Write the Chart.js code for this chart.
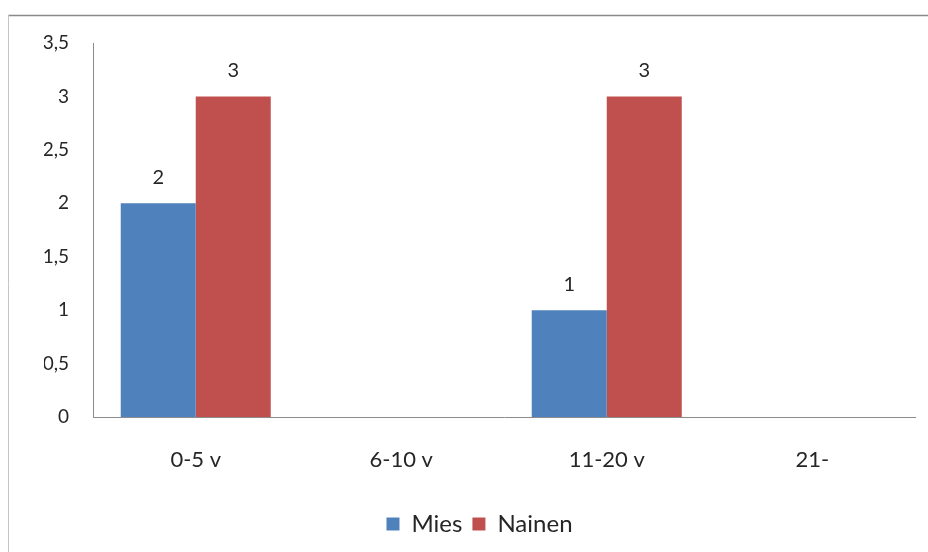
<!DOCTYPE html>
<html>
<head>
<meta charset="utf-8">
<script src="https://cdn.jsdelivr.net/npm/chart.js@4/dist/chart.umd.min.js"></script>
<style>
  html, body { margin: 0; padding: 0; background: #ffffff; }
  #wrap { position: relative; width: 928px; height: 552px; }
</style>
</head>
<body>
<div id="wrap"><canvas id="chart" width="928" height="552"></canvas></div>
<script>
const categories = ['0-5 v', '6-10 v', '11-20 v', '21-'];
const miesValues = [2, null, 1, null];
const nainenValues = [3, null, 3, null];
const yTicks = [0, 0.5, 1, 1.5, 2, 2.5, 3, 3.5];

const FONT = 'Lato, "Open Sans", sans-serif';
const fmt = v => String(v).replace('.', ',');

// Outer frame of the chart object (top and left edges)
const framePlugin = {
  id: 'frame',
  beforeDraw(chart) {
    const ctx = chart.ctx;
    ctx.save();
    ctx.strokeStyle = '#8a8a8a';
    ctx.lineWidth = 1.5;
    ctx.beginPath();
    ctx.moveTo(8, 15.5);
    ctx.lineTo(chart.width, 15.5);
    ctx.stroke();
    ctx.strokeStyle = '#c4c4c4';
    ctx.lineWidth = 1;
    ctx.beginPath();
    ctx.moveTo(8.5, 15);
    ctx.lineTo(8.5, chart.height);
    ctx.stroke();
    ctx.restore();
  }
};

// Value labels above each bar
const valueLabels = {
  id: 'valueLabels',
  afterDatasetsDraw(chart) {
    const ctx = chart.ctx;
    ctx.save();
    ctx.font = '20px ' + FONT;
    ctx.fillStyle = '#262626';
    ctx.textAlign = 'center';
    ctx.textBaseline = 'middle';
    chart.data.datasets.forEach((ds, i) => {
      chart.getDatasetMeta(i).data.forEach((bar, j) => {
        const v = ds.data[j];
        if (v === null || v === undefined) return;
        ctx.fillText(fmt(v), bar.x, bar.y - 26);
      });
    });
    ctx.restore();
  }
};

new Chart(document.getElementById('chart'), {
  type: 'bar',
  data: {
    labels: categories,
    datasets: [
      { label: 'Mies', data: miesValues, backgroundColor: '#4F81BD' },
      { label: 'Nainen', data: nainenValues, backgroundColor: '#C0504D' }
    ]
  },
  options: {
    responsive: false,
    animation: false,
    devicePixelRatio: 1,
    layout: { padding: { top: 43, right: 13, left: 44, bottom: 6 } },
    datasets: { bar: { categoryPercentage: 0.73, barPercentage: 1 } },
    scales: {
      x: {
        grid: { display: false, drawTicks: false },
        border: { display: true, color: '#8c8c8c', width: 1 },
        ticks: { padding: 30, color: '#262626', font: { family: FONT, size: 22 } },
        afterFit(scale) { scale.height = 85; }
      },
      y: {
        min: 0,
        max: 3.5,
        grid: { display: false, drawTicks: false },
        border: { display: true, color: '#8c8c8c', width: 1 },
        afterBuildTicks(scale) { scale.ticks = yTicks.map(v => ({ value: v })); },
        ticks: {
          padding: 24,
          color: '#262626',
          font: { family: FONT, size: 19 },
          callback: v => fmt(v)
        },
        afterFit(scale) { scale.width = 49; }
      }
    },
    plugins: {
      legend: {
        position: 'bottom',
        labels: {
          boxWidth: 13,
          boxHeight: 13,
          padding: 10,
          color: '#262626',
          font: { family: FONT, size: 24 }
        }
      },
      tooltip: { enabled: false }
    }
  },
  plugins: [framePlugin, valueLabels]
});
</script>
</body>
</html>
